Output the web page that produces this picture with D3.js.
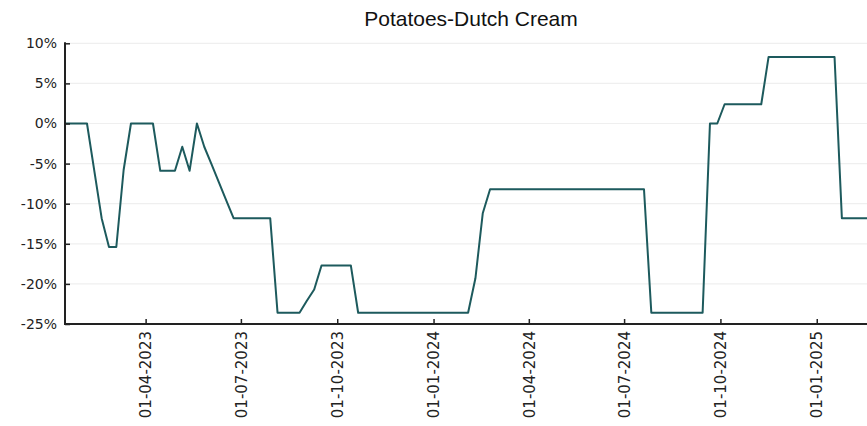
<!DOCTYPE html>
<html>
<head>
<meta charset="utf-8">
<script src="https://cdn.jsdelivr.net/npm/d3@7"></script>
<style>
  html, body { margin: 0; padding: 0; background: #fff; }
  svg { display: block; }
</style>
</head>
<body>
<svg id="chart" width="867" height="426"></svg>
<script>
const title = "Potatoes-Dutch Cream";
const startDate = "2023-01-14";   // first weekly observation
const values = [
  0, 0, 0, 0, -5.9, -11.8, -15.4, -15.4, -5.8, 0,
  0, 0, 0, -5.9, -5.9, -5.9, -2.9, -5.9, 0, -2.9,
  -5.1, -7.35, -9.6, -11.8, -11.8, -11.8, -11.8, -11.8, -11.8, -23.6,
  -23.6, -23.6, -23.6, -22.1, -20.7, -17.7, -17.7, -17.7, -17.7, -17.7,
  -23.6, -23.6, -23.6, -23.6, -23.6, -23.6, -23.6, -23.6, -23.6, -23.6,
  -23.6, -23.6, -23.6, -23.6, -23.6, -23.6, -19.3, -11.2, -8.2, -8.2,
  -8.2, -8.2, -8.2, -8.2, -8.2, -8.2, -8.2, -8.2, -8.2, -8.2,
  -8.2, -8.2, -8.2, -8.2, -8.2, -8.2, -8.2, -8.2, -8.2, -8.2,
  -23.6, -23.6, -23.6, -23.6, -23.6, -23.6, -23.6, -23.6, 0, 0,
  2.4, 2.4, 2.4, 2.4, 2.4, 2.4, 8.3, 8.3, 8.3, 8.3,
  8.3, 8.3, 8.3, 8.3, 8.3, 8.3, -11.8, -11.8, -11.8, -11.8,
  -11.8
];
const xTickDates = ["2023-04-01", "2023-07-01", "2023-10-01", "2024-01-01",
                    "2024-04-01", "2024-07-01", "2024-10-01", "2025-01-01"];
const yTicks = [10, 5, 0, -5, -10, -15, -20, -25];
const xDomain = ["2023-01-14", "2025-02-18"];
const yDomain = [-25, 10];

// ---- Build ----
const parse = d3.utcParse("%Y-%m-%d");
const t0 = parse(startDate);
const data = values.map((v, i) => ({ date: d3.utcDay.offset(t0, 7 * i), value: v }));

const svg = d3.select("#chart");
const mLeft = 65, mRight = 867, mTop = 43.3, mBottom = 324;

const x = d3.scaleUtc().domain(xDomain.map(parse)).range([mLeft, mRight]);
const y = d3.scaleLinear().domain(yDomain).range([mBottom, mTop]);

// gridlines
svg.append("g")
  .selectAll("line")
  .data(yTicks)
  .join("line")
  .attr("x1", mLeft).attr("x2", mRight)
  .attr("y1", d => y(d)).attr("y2", d => y(d))
  .attr("stroke", "#efefef")
  .attr("stroke-width", 1.2);

// title
svg.append("text")
  .attr("x", 471)
  .attr("y", 26)
  .attr("text-anchor", "middle")
  .attr("font-family", "'Liberation Sans', Arial, sans-serif")
  .attr("font-size", "21px")
  .attr("fill", "#111")
  .text(title);

// line
svg.append("defs").append("clipPath").attr("id", "clip")
  .append("rect").attr("x", mLeft).attr("y", 0).attr("width", mRight - mLeft).attr("height", 426);

svg.append("path")
  .datum(data)
  .attr("clip-path", "url(#clip)")
  .attr("fill", "none")
  .attr("stroke", "#1d5a5d")
  .attr("stroke-width", 2)
  .attr("stroke-linejoin", "round")
  .attr("d", d3.line().x(d => x(d.date)).y(d => y(d.value)));

// y axis
const yAxis = d3.axisLeft(y)
  .tickValues(yTicks)
  .tickFormat(d => d + "%")
  .tickSizeInner(-5)
  .tickSizeOuter(0)
  .tickPadding(8);
const gy = svg.append("g").attr("transform", `translate(${mLeft},0)`).call(yAxis);
gy.select(".domain").attr("stroke", "#222").attr("stroke-width", 2)
  .attr("d", `M0,${mTop - 1}V${mBottom}`);
gy.selectAll(".tick line").attr("stroke", "#222").attr("stroke-width", 1.5);
gy.selectAll(".tick text")
  .attr("font-family", "'DejaVu Sans', sans-serif")
  .attr("font-size", "14px")
  .attr("fill", "#222")
  .attr("x", -8);

// x axis
const xAxis = d3.axisBottom(x)
  .tickValues(xTickDates.map(parse))
  .tickFormat(d3.utcFormat("%d-%m-%Y"))
  .tickSizeInner(-5)
  .tickSizeOuter(0);
const gx = svg.append("g").attr("transform", `translate(0,${mBottom})`).call(xAxis);
gx.select(".domain").attr("stroke", "#222").attr("stroke-width", 2)
  .attr("d", `M${mLeft - 1},0H${mRight}`);
gx.selectAll(".tick line").attr("stroke", "#222").attr("stroke-width", 1.5);
gx.selectAll(".tick text")
  .attr("font-family", "'DejaVu Sans', sans-serif")
  .attr("font-size", "15px")
  .attr("fill", "#222")
  .attr("text-anchor", "end")
  .attr("transform", "rotate(-90)")
  .attr("x", -7)
  .attr("y", 0)
  .attr("dy", "0.35em");
</script>
</body>
</html>
